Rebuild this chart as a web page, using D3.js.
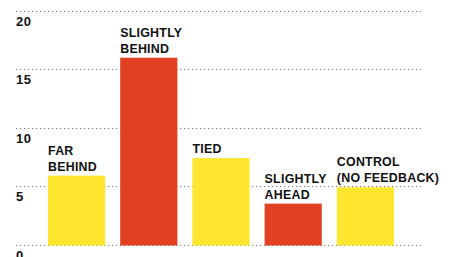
<!DOCTYPE html>
<html>
<head>
<meta charset="utf-8">
<script src="https://cdn.jsdelivr.net/npm/d3@7"></script>
<style>
  body { margin: 0; background: #fff; }
  text { font-family: "Liberation Sans", Arial, sans-serif; font-weight: bold; fill: #111; }
</style>
</head>
<body>
<div class="chart"></div>
<script>
var svgWidth = 450;
var svgHeight = 257;

// data
var categories = ["far", "slightlyBehind", "tied", "slightlyAhead", "control"];
var labels = [["FAR", "BEHIND"], ["SLIGHTLY", "BEHIND"], ["TIED"], ["SLIGHTLY", "AHEAD"], ["CONTROL", "(NO FEEDBACK)"]];
var values = [5.9, 16, 7.4, 3.5, 4.9];
var barColors = ["#fde62d", "#e24023", "#fde62d", "#e24023", "#fde62d"];
var ticks = [0, 5, 10, 15, 20];

var svg = d3.select(".chart")
  .append("svg")
  .attr("width", svgWidth)
  .attr("height", svgHeight);

var xScale = d3.scaleBand()
  .domain(categories)
  .range([48, 394])
  .paddingInner(0.208)
  .paddingOuter(0);

var yScale = d3.scaleLinear()
  .domain([0, 20])
  .range([244.5, 11]);

// dotted grid lines
svg.append("g")
  .selectAll("line")
  .data(ticks)
  .enter()
  .append("line")
  .attr("x1", 16)
  .attr("x2", 421)
  .attr("y1", d => Math.round(yScale(d)) + 0.5)
  .attr("y2", d => Math.round(yScale(d)) + 0.5)
  .attr("stroke", "#777")
  .attr("stroke-width", 1)
  .attr("stroke-dasharray", "1.2,2.8");

svg.append("g")
  .selectAll("text")
  .data(ticks)
  .enter()
  .append("text")
  .attr("x", 16)
  .attr("y", d => yScale(d) + 15)
  .style("font-size", "13px")
  .style("letter-spacing", "0.6px")
  .text(d => d);

// bars
svg.append("g")
  .selectAll("rect")
  .data(values)
  .enter()
  .append("rect")
  .attr("x", (d, i) => xScale(categories[i]))
  .attr("y", d => yScale(d))
  .attr("width", xScale.bandwidth())
  .attr("height", d => yScale(0) - yScale(d) + 1)
  .attr("fill", (d, i) => barColors[i]);

// bar labels
var labelGroup = svg.append("g");
values.forEach(function(v, i) {
  var lines = labels[i];
  var t = labelGroup.append("text")
    .style("font-size", "12.4px")
    .style("letter-spacing", "0.25px");
  lines.forEach(function(line, j) {
    t.append("tspan")
      .attr("x", xScale(categories[i]))
      .attr("y", yScale(v) - 5 - (lines.length - 1 - j) * 16)
      .text(line);
  });
});
</script>
</body>
</html>
